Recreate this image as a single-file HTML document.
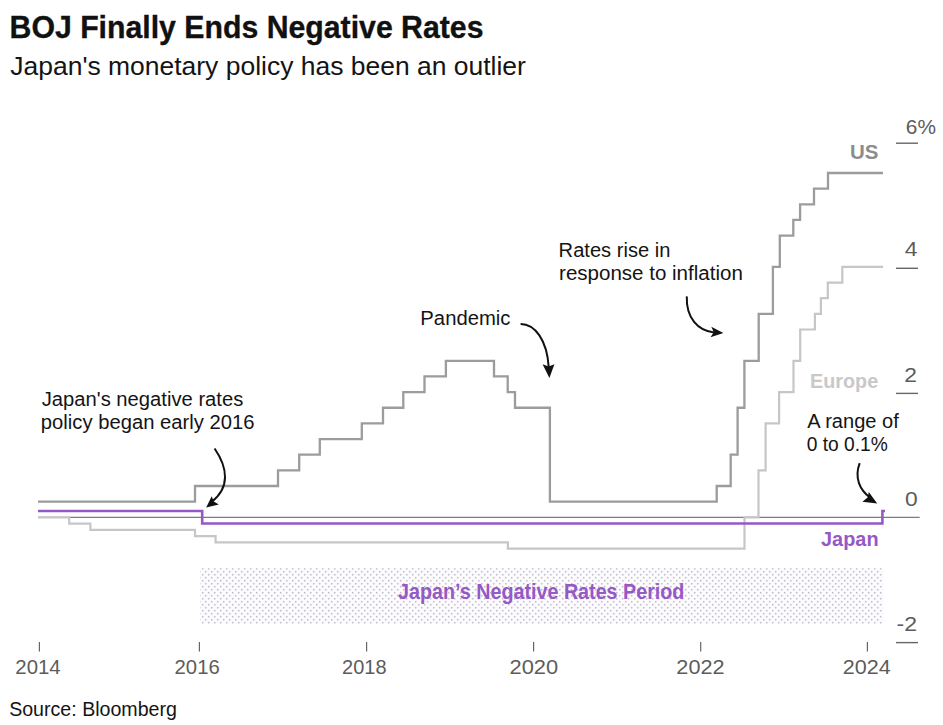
<!DOCTYPE html>
<html><head><meta charset="utf-8">
<style>
html,body{margin:0;padding:0;background:#fff;}
body{width:943px;height:725px;overflow:hidden;position:relative;}
svg{position:absolute;left:0;top:0;display:block;}
text{font-family:"Liberation Sans",Arial,sans-serif;}
</style></head><body>
<svg width="943" height="725" viewBox="0 0 943 725">
<defs>
<pattern id="dots" x="0" y="0" width="6" height="6" patternUnits="userSpaceOnUse">
<rect x="0.9" y="0.9" width="1.6" height="1.6" fill="#c2bccc"/>
<rect x="3.9" y="3.9" width="1.6" height="1.6" fill="#c2bccc"/>
</pattern>
</defs>
<rect width="943" height="725" fill="#fff"/>
<text stroke="#111" stroke-width="0.35" x="9.56" y="37.7" font-size="32" font-weight="700" fill="#111111" textLength="473.94" lengthAdjust="spacingAndGlyphs">BOJ Finally Ends Negative Rates</text>
<text x="10.28" y="74.6" font-size="26.6" fill="#141414" textLength="515.63" lengthAdjust="spacingAndGlyphs">Japan's monetary policy has been an outlier</text>

<rect x="200.1" y="568.2" width="683" height="55.6" fill="#fcfbfd"/>
<rect x="200.1" y="568.2" width="683" height="55.6" fill="url(#dots)"/>
<text x="398.07" y="598.6" font-size="21.4" font-weight="700" fill="#9558c6" textLength="286.34" lengthAdjust="spacingAndGlyphs">Japan’s Negative Rates Period</text>

<g stroke="#666" stroke-width="1.4">
<line x1="896" y1="143.2" x2="918" y2="143.2"/>
<line x1="896" y1="268.3" x2="918" y2="268.3"/>
<line x1="896" y1="393.4" x2="918" y2="393.4"/>
<line x1="896" y1="642.6" x2="918" y2="642.6"/>
</g>
<g stroke="#666" stroke-width="1.2">
<line x1="39.4" y1="642" x2="39.4" y2="651.5"/>
<line x1="199.4" y1="642" x2="199.4" y2="651.5"/>
<line x1="366.6" y1="642" x2="366.6" y2="651.5"/>
<line x1="533.6" y1="642" x2="533.6" y2="651.5"/>
<line x1="700.7" y1="642" x2="700.7" y2="651.5"/>
<line x1="867.4" y1="642" x2="867.4" y2="651.5"/>
</g>
<text x="15.35" y="673.8" font-size="19.6" fill="#5c5c5c" textLength="45.33" lengthAdjust="spacingAndGlyphs">2014</text>
<text x="174.58" y="673.8" font-size="19.6" fill="#5c5c5c" textLength="45.17" lengthAdjust="spacingAndGlyphs">2016</text>
<text x="342.07" y="673.8" font-size="19.6" fill="#5c5c5c" textLength="44.44" lengthAdjust="spacingAndGlyphs">2018</text>
<text x="509.49" y="673.8" font-size="19.6" fill="#5c5c5c" textLength="48.65" lengthAdjust="spacingAndGlyphs">2020</text>
<text x="676.34" y="673.8" font-size="19.6" fill="#5c5c5c" textLength="48.20" lengthAdjust="spacingAndGlyphs">2022</text>
<text x="842.89" y="673.8" font-size="19.6" fill="#5c5c5c" textLength="47.92" lengthAdjust="spacingAndGlyphs">2024</text>
<text x="905.86" y="134.0" font-size="19.6" fill="#5c5c5c" textLength="30.14" lengthAdjust="spacingAndGlyphs">6%</text>
<text x="904.89" y="255.7" font-size="19.6" fill="#5c5c5c" textLength="12.77" lengthAdjust="spacingAndGlyphs">4</text>
<text x="904.20" y="381.9" font-size="19.6" fill="#5c5c5c" textLength="12.68" lengthAdjust="spacingAndGlyphs">2</text>
<text x="904.93" y="505.6" font-size="19.6" fill="#5c5c5c" textLength="12.71" lengthAdjust="spacingAndGlyphs">0</text>
<text x="896.56" y="630.9" font-size="19.6" fill="#5c5c5c" textLength="20.52" lengthAdjust="spacingAndGlyphs">-2</text>

<line x1="38" y1="517.4" x2="919.7" y2="517.4" stroke="#7c7c7c" stroke-width="1.2"/>
<path d="M38,517.3H69.2V523.56H90.4V529.82H195V536.08H215.6V542.34H507.9V548.6H744.5V517.3H758.5V470.35H765.6V423.4H779.1V392.1H793.5V360.8H800.2V329.5H814.9V313.85H820.9V298.2H827.8V282.55H842.3V266.9H883" fill="none" stroke="#c6c6c6" stroke-width="2.2"/>
<path d="M38,501.65H195V486.0H278V470.35H299.2V454.7H319.8V439.05H361.8V423.4H383V407.75H403.3V392.1H424.5V376.45H445.9V360.8H494V376.45H507.7V392.1H515V407.75H549.9V501.65H716.7V486.0H730.7V454.7H737.6V407.75H744.4V360.8H758.7V313.85H772.9V266.9H779.8V235.6H793.3V219.95H800.1V204.3H814V188.65H828V173.0H883" fill="none" stroke="#9c9c9c" stroke-width="2.3"/>
<path d="M38,511.04H202.2V523.56H882.4V511.04H885" fill="none" stroke="#9558c6" stroke-width="2.6"/>

<text x="850.07" y="159.4" font-size="20.8" font-weight="700" fill="#8c8c8c" textLength="28.40" lengthAdjust="spacingAndGlyphs">US</text>
<text x="810.06" y="388.4" font-size="20.5" font-weight="700" fill="#c8c8c8" textLength="68.11" lengthAdjust="spacingAndGlyphs">Europe</text>
<text x="821.03" y="546.2" font-size="20.2" font-weight="700" fill="#9558c6" textLength="57.58" lengthAdjust="spacingAndGlyphs">Japan</text>
<text x="41.75" y="405.6" font-size="20" fill="#141414" textLength="201.56" lengthAdjust="spacingAndGlyphs">Japan's negative rates</text>
<text x="40.89" y="429.0" font-size="20" fill="#141414" textLength="213.50" lengthAdjust="spacingAndGlyphs">policy began early 2016</text>
<text x="420.37" y="324.8" font-size="20" fill="#141414" textLength="90.07" lengthAdjust="spacingAndGlyphs">Pandemic</text>
<text x="558.64" y="256.7" font-size="20" fill="#141414" textLength="111.74" lengthAdjust="spacingAndGlyphs">Rates rise in</text>
<text x="559.05" y="280.1" font-size="20" fill="#141414" textLength="183.79" lengthAdjust="spacingAndGlyphs">response to inflation</text>
<text x="807.30" y="427.6" font-size="20" fill="#141414" textLength="91.47" lengthAdjust="spacingAndGlyphs">A range of</text>
<text x="806.71" y="451.3" font-size="20" fill="#141414" textLength="81.17" lengthAdjust="spacingAndGlyphs">0 to 0.1%</text>
<text x="9.13" y="715.5" font-size="20" fill="#141414" textLength="167.80" lengthAdjust="spacingAndGlyphs">Source: Bloomberg</text>

<g fill="none" stroke="#111" stroke-width="2">
<path d="M214.6,448.5 C228,468 230,488 211.5,502"/>
<path d="M520.6,323.9 C535,323.9 547,340 548.7,367"/>
<path d="M686.8,296.4 C686,318 698,331 714,332.4"/>
<path d="M859.7,463.1 C854,478 860,490 870,497.5"/>
</g>
<g fill="#111">
<path d="M206.2,507.6 L211.7,496.3 L213.8,501.4 L218.8,504.4 Z"/>
<path d="M549.4,378 L542.6,364.3 L548.6,366.6 L554.4,364.3 Z"/>
<path d="M723.4,332.9 L711.3,326.8 L713.8,332.3 L710.5,337.3 Z"/>
<path d="M877.2,503.4 L862.4,501.8 L867.6,497.6 L868.8,491.9 Z"/>
</g>
</svg>
</body></html>
